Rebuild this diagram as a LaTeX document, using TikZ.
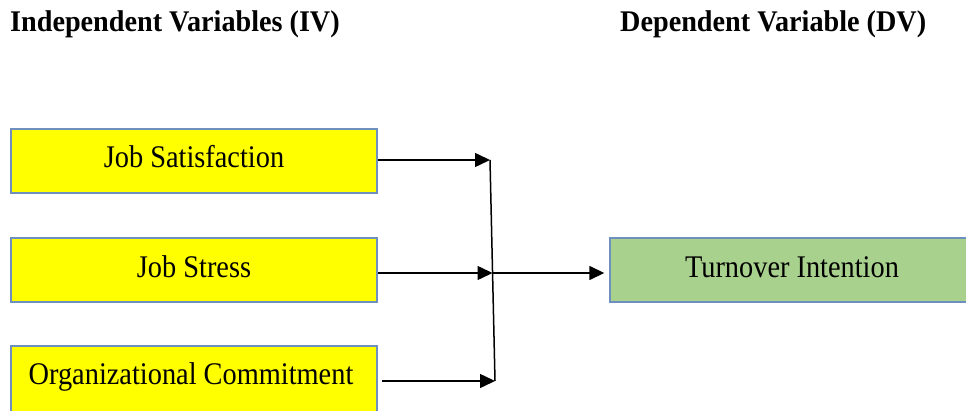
\documentclass[tikz,border=0pt]{standalone}
\usepackage{fontspec}
\setmainfont{Liberation Serif}
\newfontfamily\boxfont[FakeStretch=0.9]{Liberation Serif}
\newfontfamily\headfont[FakeStretch=0.94]{Liberation Serif}
\usetikzlibrary{arrows.meta}
\definecolor{boxline}{HTML}{6F8FBF}
\definecolor{ivfill}{HTML}{FFFF00}
\definecolor{dvfill}{HTML}{A9D18E}
\tikzset{
  ivbox/.style={draw=boxline, line width=1.4pt, fill=ivfill, minimum width=366pt, minimum height=64pt, inner sep=0pt},
  dvbox/.style={draw=boxline, line width=1.4pt, fill=dvfill, minimum width=390pt, minimum height=64pt, inner sep=0pt},
  boxtext/.style={font=\boxfont\fontsize{31.5}{31.5}\selectfont, inner sep=0pt},
  headtext/.style={font=\headfont\bfseries\fontsize{30}{30}\selectfont, inner sep=0pt, anchor=base west},
  conn/.style={line width=1.5pt, -{Triangle[length=15pt,width=14pt]}},
  plain/.style={line width=1.5pt}
}
\begin{document}
\begin{tikzpicture}[x=1pt,y=-1pt]
\clip (0,0) rectangle (966,411);
\fill[white] (0,0) rectangle (966,411);
% headings
\node[headtext] (ivh) at (10,32) {Independent Variables (IV)};
\node[headtext] (dvh) at (620,32) {Dependent Variable (DV)};
% IV boxes
\node[ivbox] (js) at (194,161) {};
\node[boxtext] (jst) at (194,157) {Job Satisfaction};
\node[ivbox] (jss) at (194,270) {};
\node[boxtext] (jsst) at (194,267) {Job Stress};
\node[ivbox, minimum height=80pt] (oc) at (194,386) {};
\node[boxtext] (oct) at (191,377) {Organizational Commitment};
% DV box
\node[dvbox] (dv) at (805,270) {};
\node[boxtext] (dvt) at (792,267) {Turnover Intention};
% junction points
\coordinate (m1) at (490,160);
\coordinate (m2) at (492.5,273);
\coordinate (m3) at (495,381);
\coordinate (s3) at (382,381);
% connectors
\draw[conn] (js.east |- m1) -- (m1);
\draw[conn] (jss.east |- m2) -- (m2);
\draw[conn] (s3) -- (m3);
\draw[plain] (m1) -- (m3);
\draw[conn, shorten >=5pt] (m2) -- (dv.west |- m2);
\end{tikzpicture}
\end{document}
